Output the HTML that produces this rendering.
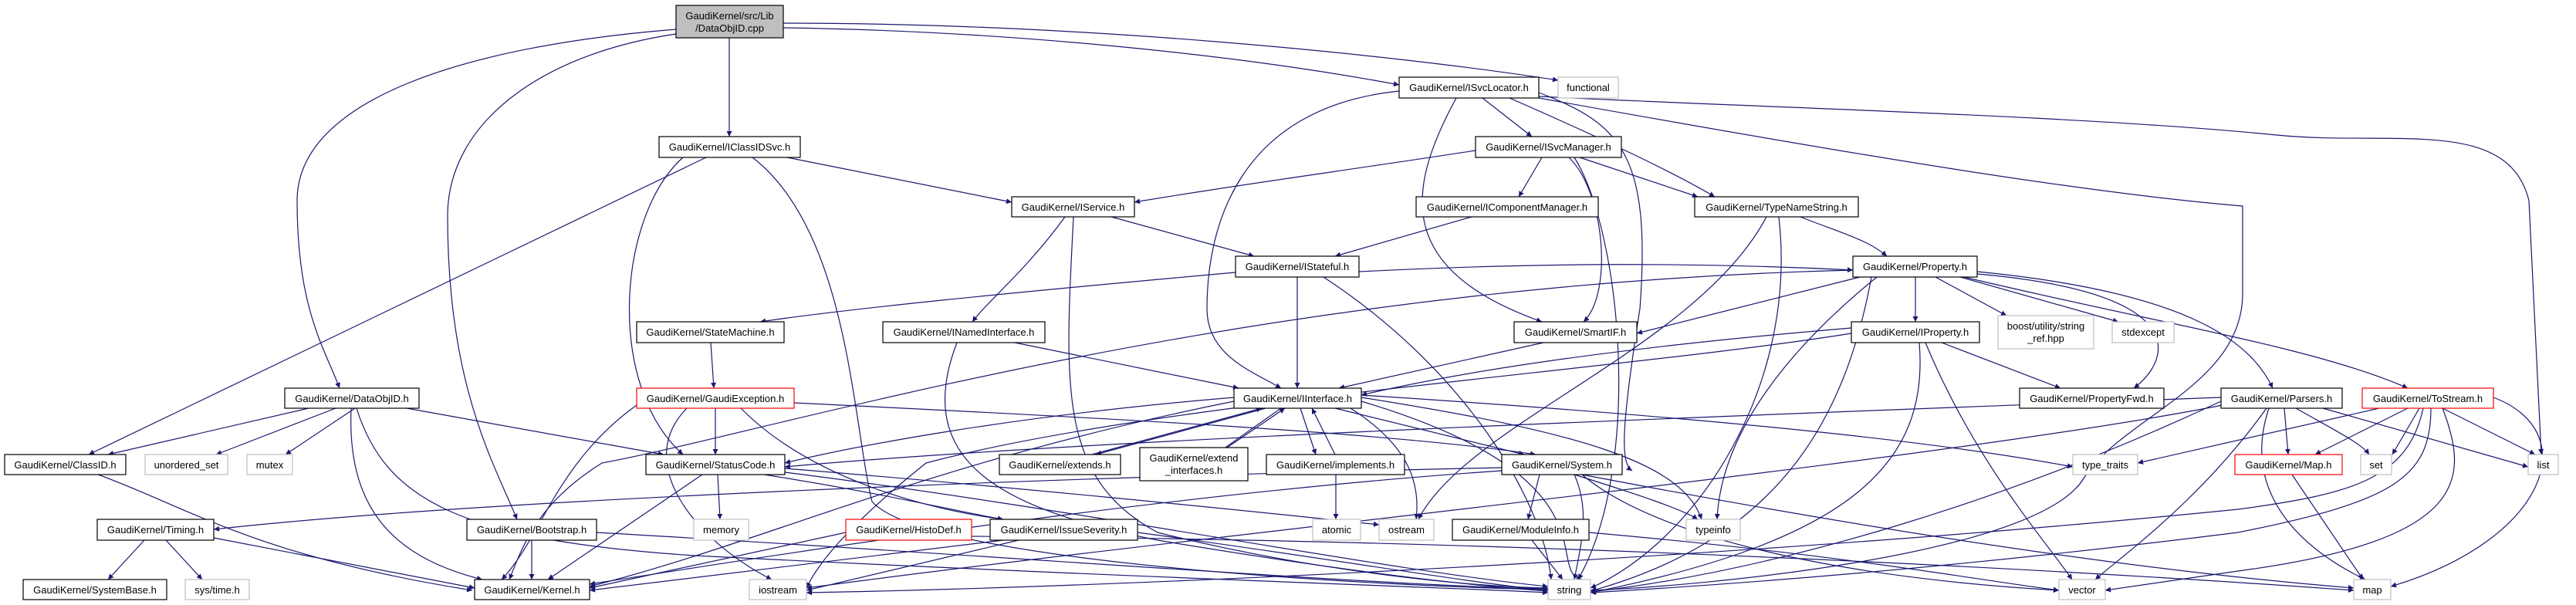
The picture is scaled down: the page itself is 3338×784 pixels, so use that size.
<!DOCTYPE html>
<html><head><meta charset="utf-8">
<style>
html,body{margin:0;padding:0;background:#fff;}
svg{display:block;}
text{font-family:"Liberation Sans",Arial,sans-serif;font-size:13px;fill:#000;}
.n{fill:#fff;stroke:#000;stroke-width:1.2;}
.g{fill:#fff;stroke:#bfbfbf;stroke-width:1.2;}
.r{fill:#fff;stroke:#ff0000;stroke-width:1.2;}
.e path{fill:none;stroke:#191970;stroke-width:1.2;marker-end:url(#a);}
</style></head><body>
<svg width="3338" height="784" viewBox="0 0 3338 784" xmlns="http://www.w3.org/2000/svg">
<defs><marker id="a" viewBox="0 0 10 10" refX="10" refY="5" markerWidth="9" markerHeight="7" markerUnits="userSpaceOnUse" orient="auto"><path d="M0,0 L10,5 L0,10 z" fill="#191970"/></marker></defs>
<g class="e">
<!-- root -->
<path d="M945,49 L945,177"/>
<path d="M1015,36 C1300,40 1600,70 1813,110"/>
<path d="M1015,30 C1400,30 1800,70 2019,104"/>
<path d="M876,38 C600,60 385,130 385,260 C385,400 420,450 440,503"/>
<path d="M876,44 C700,70 580,160 580,280 C580,500 640,600 670,673"/>
<!-- IClassIDSvc -->
<path d="M1020,204 C1150,230 1250,250 1311,262"/>
<path d="M915,204 L115,589"/>
<path d="M885,204 C800,280 785,500 885,589"/>
<path d="M975,204 C1100,300 1105,550 1130,650 C1200,730 1800,760 2006,764"/>
<!-- ISvcLocator -->
<path d="M1813,118 C1600,140 1564,300 1564,400 C1564,460 1620,480 1660,503"/>
<path d="M1887,127 C1820,250 1810,350 1998,417"/>
<path d="M1921,127 L1985,177"/>
<path d="M1956,127 C2100,190 2180,230 2222,255"/>
<path d="M1994,125 C2300,140 2700,150 2950,175 C3100,190 3250,150 3277,260 L3293,589"/>
<path d="M1994,127 C2400,200 2700,250 2906,267 L2906,380 C2906,500 2750,540 2700,620 C2640,720 2200,760 2061,765"/>
<path d="M1994,120 C2100,160 2140,200 2125,400 C2100,560 2100,600 2115,610"/>
<!-- ISvcManager -->
<path d="M1912,195 C1750,220 1600,240 1470,262"/>
<path d="M1998,204 L1968,255"/>
<path d="M2047,204 L2200,255"/>
<path d="M2033,204 C2080,250 2090,380 2052,417"/>
<path d="M2040,204 C2100,300 2130,600 2045,751"/>
<!-- IComponentManager, IService -->
<path d="M1907,281 L1730,332"/>
<path d="M1440,281 L1625,332"/>
<path d="M1380,281 C1330,350 1280,390 1260,417"/>
<path d="M1391,281 C1380,500 1370,620 1500,690 C1700,740 1900,760 2006,762"/>
<!-- IStateful -->
<path d="M1681,359 L1681,503"/>
<path d="M1601,353 C1300,380 1100,400 985,417"/>
<path d="M1715,359 C1900,480 2000,650 2010,751"/>
<path d="M1761,352 C2000,340 2200,340 2401,350"/>
<!-- TypeNameString -->
<path d="M2333,281 C2380,300 2420,310 2445,332"/>
<path d="M2289,281 C2200,450 1900,550 1838,673"/>
<path d="M2305,281 C2330,500 2200,700 2061,762"/>
<!-- Property -->
<path d="M2401,350 C1600,370 1000,560 780,600 C700,650 680,700 660,751"/>
<path d="M2410,359 L2121,432"/>
<path d="M2482,359 L2482,417"/>
<path d="M2508,359 L2600,409"/>
<path d="M2540,359 L2745,417"/>
<path d="M2562,355 C2850,380 2810,470 2765,503"/>
<path d="M2562,352 C2850,380 2920,450 2945,503"/>
<path d="M2545,359 C2800,420 3000,450 3120,503"/>
<path d="M2432,359 C2320,450 2230,560 2225,673"/>
<path d="M2425,359 C2390,550 2300,700 2061,766"/>
<!-- IProperty -->
<path d="M2399,425 C2100,450 1900,480 1764,512"/>
<path d="M2516,444 L2670,503"/>
<path d="M2495,444 C2560,600 2650,700 2685,751"/>
<path d="M2487,444 C2500,600 2400,700 2061,768"/>
<path d="M2399,432 C2100,480 1500,520 1200,600 C1100,680 1060,730 1045,762"/>
<!-- SmartIF, INamedInterface -->
<path d="M2000,444 L1735,503"/>
<path d="M1315,444 L1605,503"/>
<path d="M1240,444 C1180,600 1300,660 1500,700 C1800,750 1950,762 2006,766"/>
<!-- StateMachine, GaudiException -->
<path d="M921,444 L925,503"/>
<path d="M927,529 L927,589"/>
<path d="M825,525 C720,600 700,700 650,751"/>
<path d="M890,529 C820,600 900,700 1000,751"/>
<path d="M960,529 C1050,620 1200,660 1300,673"/>
<path d="M1029,522 C1400,540 1800,560 1990,589"/>
<!-- DataObjID -->
<path d="M400,529 L140,589"/>
<path d="M435,529 L280,589"/>
<path d="M460,529 L370,589"/>
<path d="M527,529 L860,589"/>
<path d="M455,529 C450,650 500,720 625,751"/>
<path d="M462,529 C500,650 600,700 900,720 C1500,750 1900,762 2006,768"/>
<!-- ClassID, StatusCode -->
<path d="M127,615 C250,660 330,720 612,765"/>
<path d="M910,615 L710,751"/>
<path d="M930,615 L933,673"/>
<path d="M990,615 C1150,640 1250,665 1300,673"/>
<path d="M1017,607 C1300,630 1600,660 1787,680"/>
<path d="M1017,612 C1400,660 1800,740 2006,760"/>
<!-- IInterface -->
<path d="M1599,515 C1300,540 1100,580 1017,600"/>
<path d="M1599,520 C1200,600 1000,700 764,760"/>
<path d="M1730,529 L1975,589"/>
<path d="M1640,529 L1420,589"/>
<path d="M1415,589 L1635,529"/>
<path d="M1660,529 L1575,589"/>
<path d="M1590,580 L1665,529"/>
<path d="M1685,529 L1705,589"/>
<path d="M1730,589 L1700,529"/>
<path d="M1750,529 C1830,580 1840,630 1835,673"/>
<path d="M1764,515 C2050,560 2180,600 2205,673"/>
<path d="M1764,512 C2200,540 2500,570 2686,605"/>
<path d="M1764,520 C2100,620 2000,740 2050,751"/>
<path d="M1731,615 L1731,673"/>
<!-- System -->
<path d="M1946,606 C1300,620 600,650 277,686"/>
<path d="M1995,615 L1980,673"/>
<path d="M2040,615 C2120,640 2180,660 2200,673"/>
<path d="M2040,615 C2060,660 2050,700 2040,751"/>
<path d="M2050,615 C2150,700 2400,750 2668,765"/>
<path d="M1946,610 C1500,640 1000,720 764,757"/>
<!-- Bootstrap, Timing -->
<path d="M689,700 L689,751"/>
<path d="M773,690 C1300,720 1800,760 2006,763"/>
<path d="M187,700 L140,751"/>
<path d="M215,700 L262,751"/>
<path d="M277,697 L615,762"/>
<!-- HistoDef, IssueSeverity, ModuleInfo -->
<path d="M1096,690 L764,762"/>
<path d="M1259,695 C2000,700 2700,740 3050,765"/>
<path d="M1300,700 L764,765"/>
<path d="M1474,690 C1700,720 1900,755 2006,765"/>
<path d="M1320,700 L1045,765"/>
<path d="M1985,700 L2025,751"/>
<path d="M2059,690 C2400,720 2550,750 2668,765"/>
<!-- Parsers -->
<path d="M2960,529 L2965,589"/>
<path d="M2975,529 C3030,560 3060,575 3070,589"/>
<path d="M3010,529 L3276,605"/>
<path d="M2937,529 C2850,650 2750,720 2715,751"/>
<path d="M2940,529 C2900,650 3000,720 3065,751"/>
<path d="M2878,520 C2600,650 2300,740 2061,767"/>
<path d="M2878,515 C2200,540 1400,570 1017,605"/>
<path d="M2880,525 C2500,600 1500,700 1045,762"/>
<!-- ToStream -->
<path d="M3083,529 L2770,600"/>
<path d="M3120,529 L3000,589"/>
<path d="M3135,529 L3100,589"/>
<path d="M3165,529 L3285,589"/>
<path d="M3231,515 C3350,560 3300,700 3098,760"/>
<path d="M3165,529 C3200,620 3200,700 2900,740 C2800,755 2760,760 2728,765"/>
<path d="M3150,529 C3150,620 3100,650 2900,690 C2500,740 2200,760 2061,768"/>
<path d="M3140,529 C3120,620 3050,640 2900,660 C2300,720 1500,760 1045,768"/>
<path d="M2970,615 L3062,751"/>
<path d="M2050,615 C2600,720 2900,750 3050,762"/>
</g>
<!-- nodes -->
<g>
<rect x="876" y="7" width="139" height="42" fill="#bfbfbf" stroke="#000" stroke-width="1.2"/>
<text x="945.5" y="25" text-anchor="middle">GaudiKernel/src/Lib</text>
<text x="945.5" y="41" text-anchor="middle">/DataObjID.cpp</text>

<rect class="n" x="854" y="177" width="183" height="27"/><text x="945.5" y="195" text-anchor="middle">GaudiKernel/IClassIDSvc.h</text>
<rect class="n" x="1813" y="100" width="181" height="27"/><text x="1903.5" y="118" text-anchor="middle">GaudiKernel/ISvcLocator.h</text>
<rect class="g" x="2019" y="100" width="78" height="27"/><text x="2058" y="118" text-anchor="middle">functional</text>
<rect class="n" x="1912" y="177" width="189" height="27"/><text x="2006.5" y="195" text-anchor="middle">GaudiKernel/ISvcManager.h</text>
<rect class="n" x="1311" y="255" width="159" height="26"/><text x="1390.5" y="273" text-anchor="middle">GaudiKernel/IService.h</text>
<rect class="n" x="1835" y="255" width="236" height="26"/><text x="1953" y="273" text-anchor="middle">GaudiKernel/IComponentManager.h</text>
<rect class="n" x="2196" y="255" width="212" height="26"/><text x="2302" y="273" text-anchor="middle">GaudiKernel/TypeNameString.h</text>
<rect class="n" x="1601" y="332" width="160" height="27"/><text x="1681" y="350" text-anchor="middle">GaudiKernel/IStateful.h</text>
<rect class="n" x="2401" y="332" width="161" height="27"/><text x="2481.5" y="350" text-anchor="middle">GaudiKernel/Property.h</text>
<rect class="n" x="825" y="417" width="191" height="27"/><text x="920.5" y="435" text-anchor="middle">GaudiKernel/StateMachine.h</text>
<rect class="n" x="1144" y="417" width="210" height="27"/><text x="1249" y="435" text-anchor="middle">GaudiKernel/INamedInterface.h</text>
<rect class="n" x="1962" y="417" width="159" height="27"/><text x="2041.5" y="435" text-anchor="middle">GaudiKernel/SmartIF.h</text>
<rect class="n" x="2399" y="417" width="166" height="27"/><text x="2482" y="435" text-anchor="middle">GaudiKernel/IProperty.h</text>
<rect class="g" x="2589" y="409" width="124" height="43"/><text x="2651" y="427" text-anchor="middle">boost/utility/string</text><text x="2651" y="443" text-anchor="middle">_ref.hpp</text>
<rect class="g" x="2737" y="417" width="80" height="27"/><text x="2777" y="435" text-anchor="middle">stdexcept</text>
<rect class="n" x="369" y="503" width="174" height="26"/><text x="456" y="521" text-anchor="middle">GaudiKernel/DataObjID.h</text>
<rect class="r" x="825" y="503" width="204" height="26"/><text x="927" y="521" text-anchor="middle">GaudiKernel/GaudiException.h</text>
<rect class="n" x="1599" y="503" width="165" height="26"/><text x="1681.5" y="521" text-anchor="middle">GaudiKernel/IInterface.h</text>
<rect class="n" x="2617" y="503" width="187" height="26"/><text x="2710.5" y="521" text-anchor="middle">GaudiKernel/PropertyFwd.h</text>
<rect class="n" x="2878" y="503" width="157" height="26"/><text x="2956.5" y="521" text-anchor="middle">GaudiKernel/Parsers.h</text>
<rect class="r" x="3061" y="503" width="170" height="26"/><text x="3146" y="521" text-anchor="middle">GaudiKernel/ToStream.h</text>
<rect class="n" x="6" y="589" width="157" height="26"/><text x="84.5" y="607" text-anchor="middle">GaudiKernel/ClassID.h</text>
<rect class="g" x="188" y="589" width="107" height="26"/><text x="241.5" y="607" text-anchor="middle">unordered_set</text>
<rect class="g" x="320" y="589" width="59" height="26"/><text x="349.5" y="607" text-anchor="middle">mutex</text>
<rect class="n" x="837" y="589" width="180" height="26"/><text x="927" y="607" text-anchor="middle">GaudiKernel/StatusCode.h</text>
<rect class="n" x="1295" y="589" width="157" height="26"/><text x="1373.5" y="607" text-anchor="middle">GaudiKernel/extends.h</text>
<rect class="n" x="1477" y="580" width="140" height="43"/><text x="1547" y="598" text-anchor="middle">GaudiKernel/extend</text><text x="1547" y="614" text-anchor="middle">_interfaces.h</text>
<rect class="n" x="1641" y="589" width="179" height="26"/><text x="1730.5" y="607" text-anchor="middle">GaudiKernel/implements.h</text>
<rect class="n" x="1946" y="589" width="156" height="26"/><text x="2024" y="607" text-anchor="middle">GaudiKernel/System.h</text>
<rect class="g" x="2686" y="589" width="84" height="26"/><text x="2728" y="607" text-anchor="middle">type_traits</text>
<rect class="r" x="2896" y="589" width="139" height="26"/><text x="2965.5" y="607" text-anchor="middle">GaudiKernel/Map.h</text>
<rect class="g" x="3059" y="589" width="40" height="26"/><text x="3079" y="607" text-anchor="middle">set</text>
<rect class="g" x="3276" y="589" width="39" height="26"/><text x="3295.5" y="607" text-anchor="middle">list</text>
<rect class="n" x="126" y="673" width="151" height="27"/><text x="201.5" y="691" text-anchor="middle">GaudiKernel/Timing.h</text>
<rect class="n" x="605" y="673" width="168" height="27"/><text x="689" y="691" text-anchor="middle">GaudiKernel/Bootstrap.h</text>
<rect class="g" x="899" y="673" width="71" height="27"/><text x="934.5" y="691" text-anchor="middle">memory</text>
<rect class="r" x="1096" y="673" width="163" height="27"/><text x="1177.5" y="691" text-anchor="middle">GaudiKernel/HistoDef.h</text>
<rect class="n" x="1283" y="673" width="191" height="27"/><text x="1378.5" y="691" text-anchor="middle">GaudiKernel/IssueSeverity.h</text>
<rect class="g" x="1701" y="673" width="62" height="27"/><text x="1732" y="691" text-anchor="middle">atomic</text>
<rect class="g" x="1787" y="673" width="71" height="27"/><text x="1822.5" y="691" text-anchor="middle">ostream</text>
<rect class="n" x="1882" y="673" width="177" height="27"/><text x="1970.5" y="691" text-anchor="middle">GaudiKernel/ModuleInfo.h</text>
<rect class="g" x="2185" y="673" width="70" height="27"/><text x="2220" y="691" text-anchor="middle">typeinfo</text>
<rect class="n" x="30" y="751" width="186" height="26"/><text x="123" y="769" text-anchor="middle">GaudiKernel/SystemBase.h</text>
<rect class="g" x="240" y="751" width="83" height="26"/><text x="281.5" y="769" text-anchor="middle">sys/time.h</text>
<rect class="n" x="615" y="751" width="149" height="26"/><text x="689.5" y="769" text-anchor="middle">GaudiKernel/Kernel.h</text>
<rect class="g" x="971" y="751" width="74" height="26"/><text x="1008" y="769" text-anchor="middle">iostream</text>
<rect class="g" x="2006" y="751" width="55" height="26"/><text x="2033.5" y="769" text-anchor="middle">string</text>
<rect class="g" x="2668" y="751" width="60" height="26"/><text x="2698" y="769" text-anchor="middle">vector</text>
<rect class="g" x="3050" y="751" width="48" height="26"/><text x="3074" y="769" text-anchor="middle">map</text>
</g>
</svg>
</body></html>
